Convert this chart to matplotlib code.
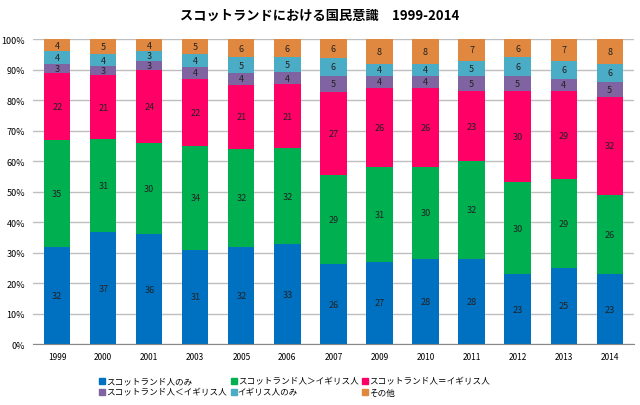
import numpy as np
import matplotlib
matplotlib.use("Agg")
import matplotlib.pyplot as plt
from matplotlib.lines import Line2D

plt.rcParams['font.family'] = ['Noto Sans CJK JP', 'DejaVu Sans']

years = ["1999", "2000", "2001", "2003", "2005", "2006", "2007",
         "2009", "2010", "2011", "2012", "2013", "2014"]

scot_only = [32, 37, 36, 31, 32, 33, 26, 27, 28, 28, 23, 25, 23]
scot_more = [35, 31, 30, 34, 32, 32, 29, 31, 30, 32, 30, 29, 26]
equal = [22, 21, 24, 22, 21, 21, 27, 26, 26, 23, 30, 29, 32]
brit_more = [3, 3, 3, 4, 4, 4, 5, 4, 4, 5, 5, 4, 5]
brit_only = [4, 4, 3, 4, 5, 5, 6, 4, 4, 5, 6, 6, 6]
other = [4, 5, 4, 5, 6, 6, 6, 8, 8, 7, 6, 7, 8]

labels = ["スコットランド人のみ", "スコットランド人＞イギリス人", "スコットランド人＝イギリス人",
          "スコットランド人＜イギリス人", "イギリス人のみ", "その他"]
colors = ["#0070C0", "#00B050", "#FF0066", "#8064A2", "#4BACC6", "#E0883F"]

series = [scot_only, scot_more, equal, brit_more, brit_only, other]
data = np.array(series, dtype=float)
totals = data.sum(axis=0)
share = data / totals

fig = plt.figure(figsize=(6.4, 4.06), dpi=100)
ax = fig.add_axes([0.052, 0.150, 0.938, 0.751])

x = np.arange(len(years))
bottom = np.zeros(len(years))
for vals, pct, col in zip(series, share, colors):
    ax.bar(x, pct, 0.57, bottom=bottom, color=col, zorder=2)
    for i in range(len(years)):
        ax.text(x[i], bottom[i] + pct[i] / 2, str(vals[i]), ha='center', va='center',
                fontsize=6.5, color='#222222', zorder=3)
    bottom += pct

ax.set_xlim(-0.52, len(years) - 0.48)
ax.set_ylim(0, 1)
ax.set_yticks(np.arange(0, 1.01, 0.1))
ax.set_yticklabels([f"{int(round(v * 100))}%" for v in np.arange(0, 1.01, 0.1)], fontsize=6.5)
ax.set_xticks(x)
ax.set_xticklabels(years, fontsize=6)
ax.yaxis.grid(True, color='#BFBFBF', linewidth=1, zorder=0)
ax.tick_params(axis='both', length=0, pad=6)
for s in ['left', 'right', 'top']:
    ax.spines[s].set_visible(False)
ax.spines['bottom'].set_color('#888888')

fig.text(0.5, 0.962, "スコットランドにおける国民意識　1999-2014", ha='center', va='center',
         fontsize=9.5, fontweight='bold')

# legend fills column by column, so reorder to read row by row
order = [0, 3, 1, 4, 2, 5]
handles = [Line2D([0], [0], marker='s', linestyle='none', markersize=4.5,
                  markerfacecolor=colors[k], markeredgecolor=colors[k]) for k in order]
fig.legend(handles, [labels[k] for k in order], loc='center', bbox_to_anchor=(0.46, 0.045), ncol=3,
           frameon=False, fontsize=6.2, handletextpad=0.05, columnspacing=0.4,
           labelspacing=0.25, handlelength=0.8)

fig.savefig("out.png", dpi=100)
